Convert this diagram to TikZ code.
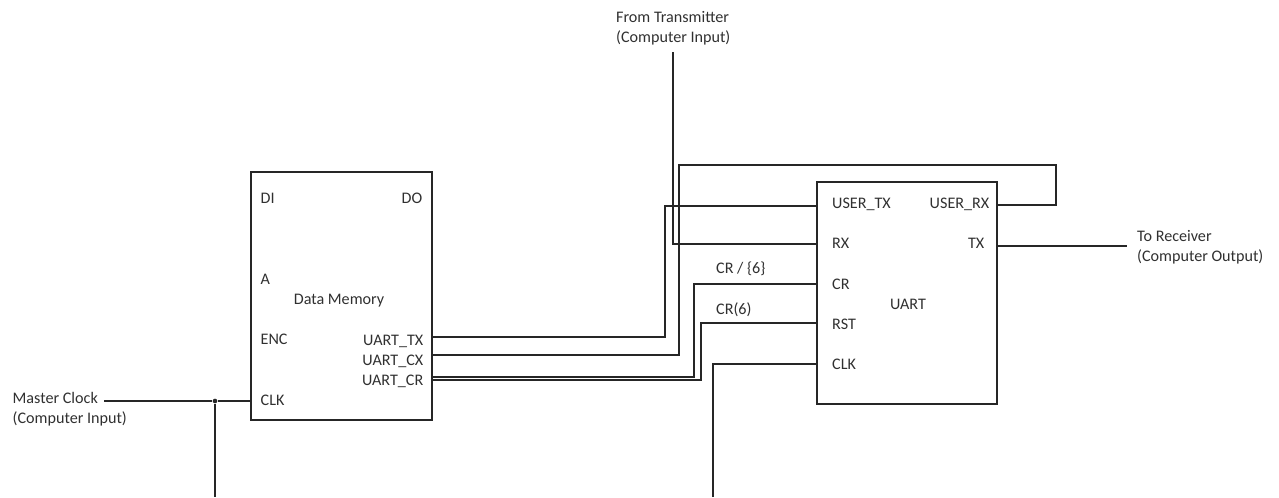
\documentclass[tikz,border=0pt]{standalone}
\usepackage{fontspec}
\setmainfont{Carlito}
\usetikzlibrary{positioning}
\definecolor{cline}{HTML}{262626}
\definecolor{ctext}{HTML}{303030}
\tikzset{
  every picture/.style={font=\fontsize{12.1}{15}\selectfont, line width=1.05pt},
  block/.style={draw=cline, minimum width=#1, inner sep=0pt},
  wire/.style={draw=cline, line width=1.05pt},
  portl/.style={anchor=west, text=ctext, inner sep=0pt},
  portr/.style={anchor=east, text=ctext, inner sep=0pt},
  note/.style={anchor=west, text=ctext, align=left, inner sep=0pt},
  junction/.style={circle, fill=cline, inner sep=0pt, minimum size=3.5pt},
}
\begin{document}
\begin{tikzpicture}[x=0.75pt, y=-0.75pt]
  \useasboundingbox (0,0) rectangle (1279,497);
  \node[block=135.75pt, minimum height=186pt] (mem) at (341.5,296) {};
  \node[block=135pt, minimum height=166.5pt] (uart) at (907,293) {};
  % data memory labels
  \node[portl] (memdi) at (260,198) {DI};
  \node[portr] (memdo) at (423,198) {DO};
  \node[portl] (mema) at (260,279) {A};
  \node[text=ctext, inner sep=0pt] (memname) at (339,301) {Data Memory};
  \node[portl] (memenc) at (260,339) {ENC};
  \node[portl] (memclk) at (260,400) {CLK};
  \node[portr] (memutx) at (424,341) {UART\_TX};
  \node[portr] (memucx) at (424,361) {UART\_CX};
  \node[portr] (memucr) at (424,381) {UART\_CR};
  % uart labels
  \node[portl] (utx) at (831.5,204) {USER\_TX};
  \node[portr] (urx) at (990,204) {USER\_RX};
  \node[portl] (rx) at (831.5,243) {RX};
  \node[portr] (tx) at (985,243) {TX};
  \node[portl] (cr) at (831.5,284) {CR};
  \node[text=ctext, inner sep=0pt] (uartname) at (908,304) {UART};
  \node[portl] (rst) at (831.5,324) {RST};
  \node[portl] (uclk) at (831.5,364) {CLK};
  \node[portl] (crbus) at (715.5,269) {CR / \{6\}};
  \node[portl] (crsix) at (715.5,310) {CR(6)};
  % outside signals
  \node[note] (fromtx) at (615.5,28) {From Transmitter\\(Computer Input)};
  \node[note] (torx) at (1136.5,247) {To Receiver\\(Computer Output)};
  \node[note] (master) at (12,409) {Master Clock\\(Computer Input)};
  \node[junction] (clkdot) at (215,401) {};
  \coordinate (masterend) at (104,401);
  \coordinate (clkbottom) at (215,497);
  \coordinate (uclkbottom) at (713,497);
  \coordinate (fromtxend) at (673,52);
  \coordinate (torxend) at (1127,246);
  % wires
  \draw[wire] (masterend) -- (clkdot) -- (clkdot -| mem.west);
  \draw[wire] (clkdot) -- (clkbottom);
  \draw[wire] (uclkbottom) |- (uart.west |- 0,364);
  \draw[wire] (fromtxend) |- (uart.west |- 0,244);
  \draw[wire] (uart.east |- 0,246) -- (torxend);
  \draw[wire] (mem.east |- 0,337) -| (665,206) -- (uart.west |- 0,206);
  \draw[wire] (mem.east |- 0,355) -| (679,165) -| (1056,205) -- (uart.east |- 0,205);
  \draw[wire] (mem.east |- 0,377) -| (694,284) -- (uart.west |- 0,284);
  \draw[wire] (mem.east |- 0,380) -| (701,323) -- (uart.west |- 0,323);
\end{tikzpicture}
\end{document}
